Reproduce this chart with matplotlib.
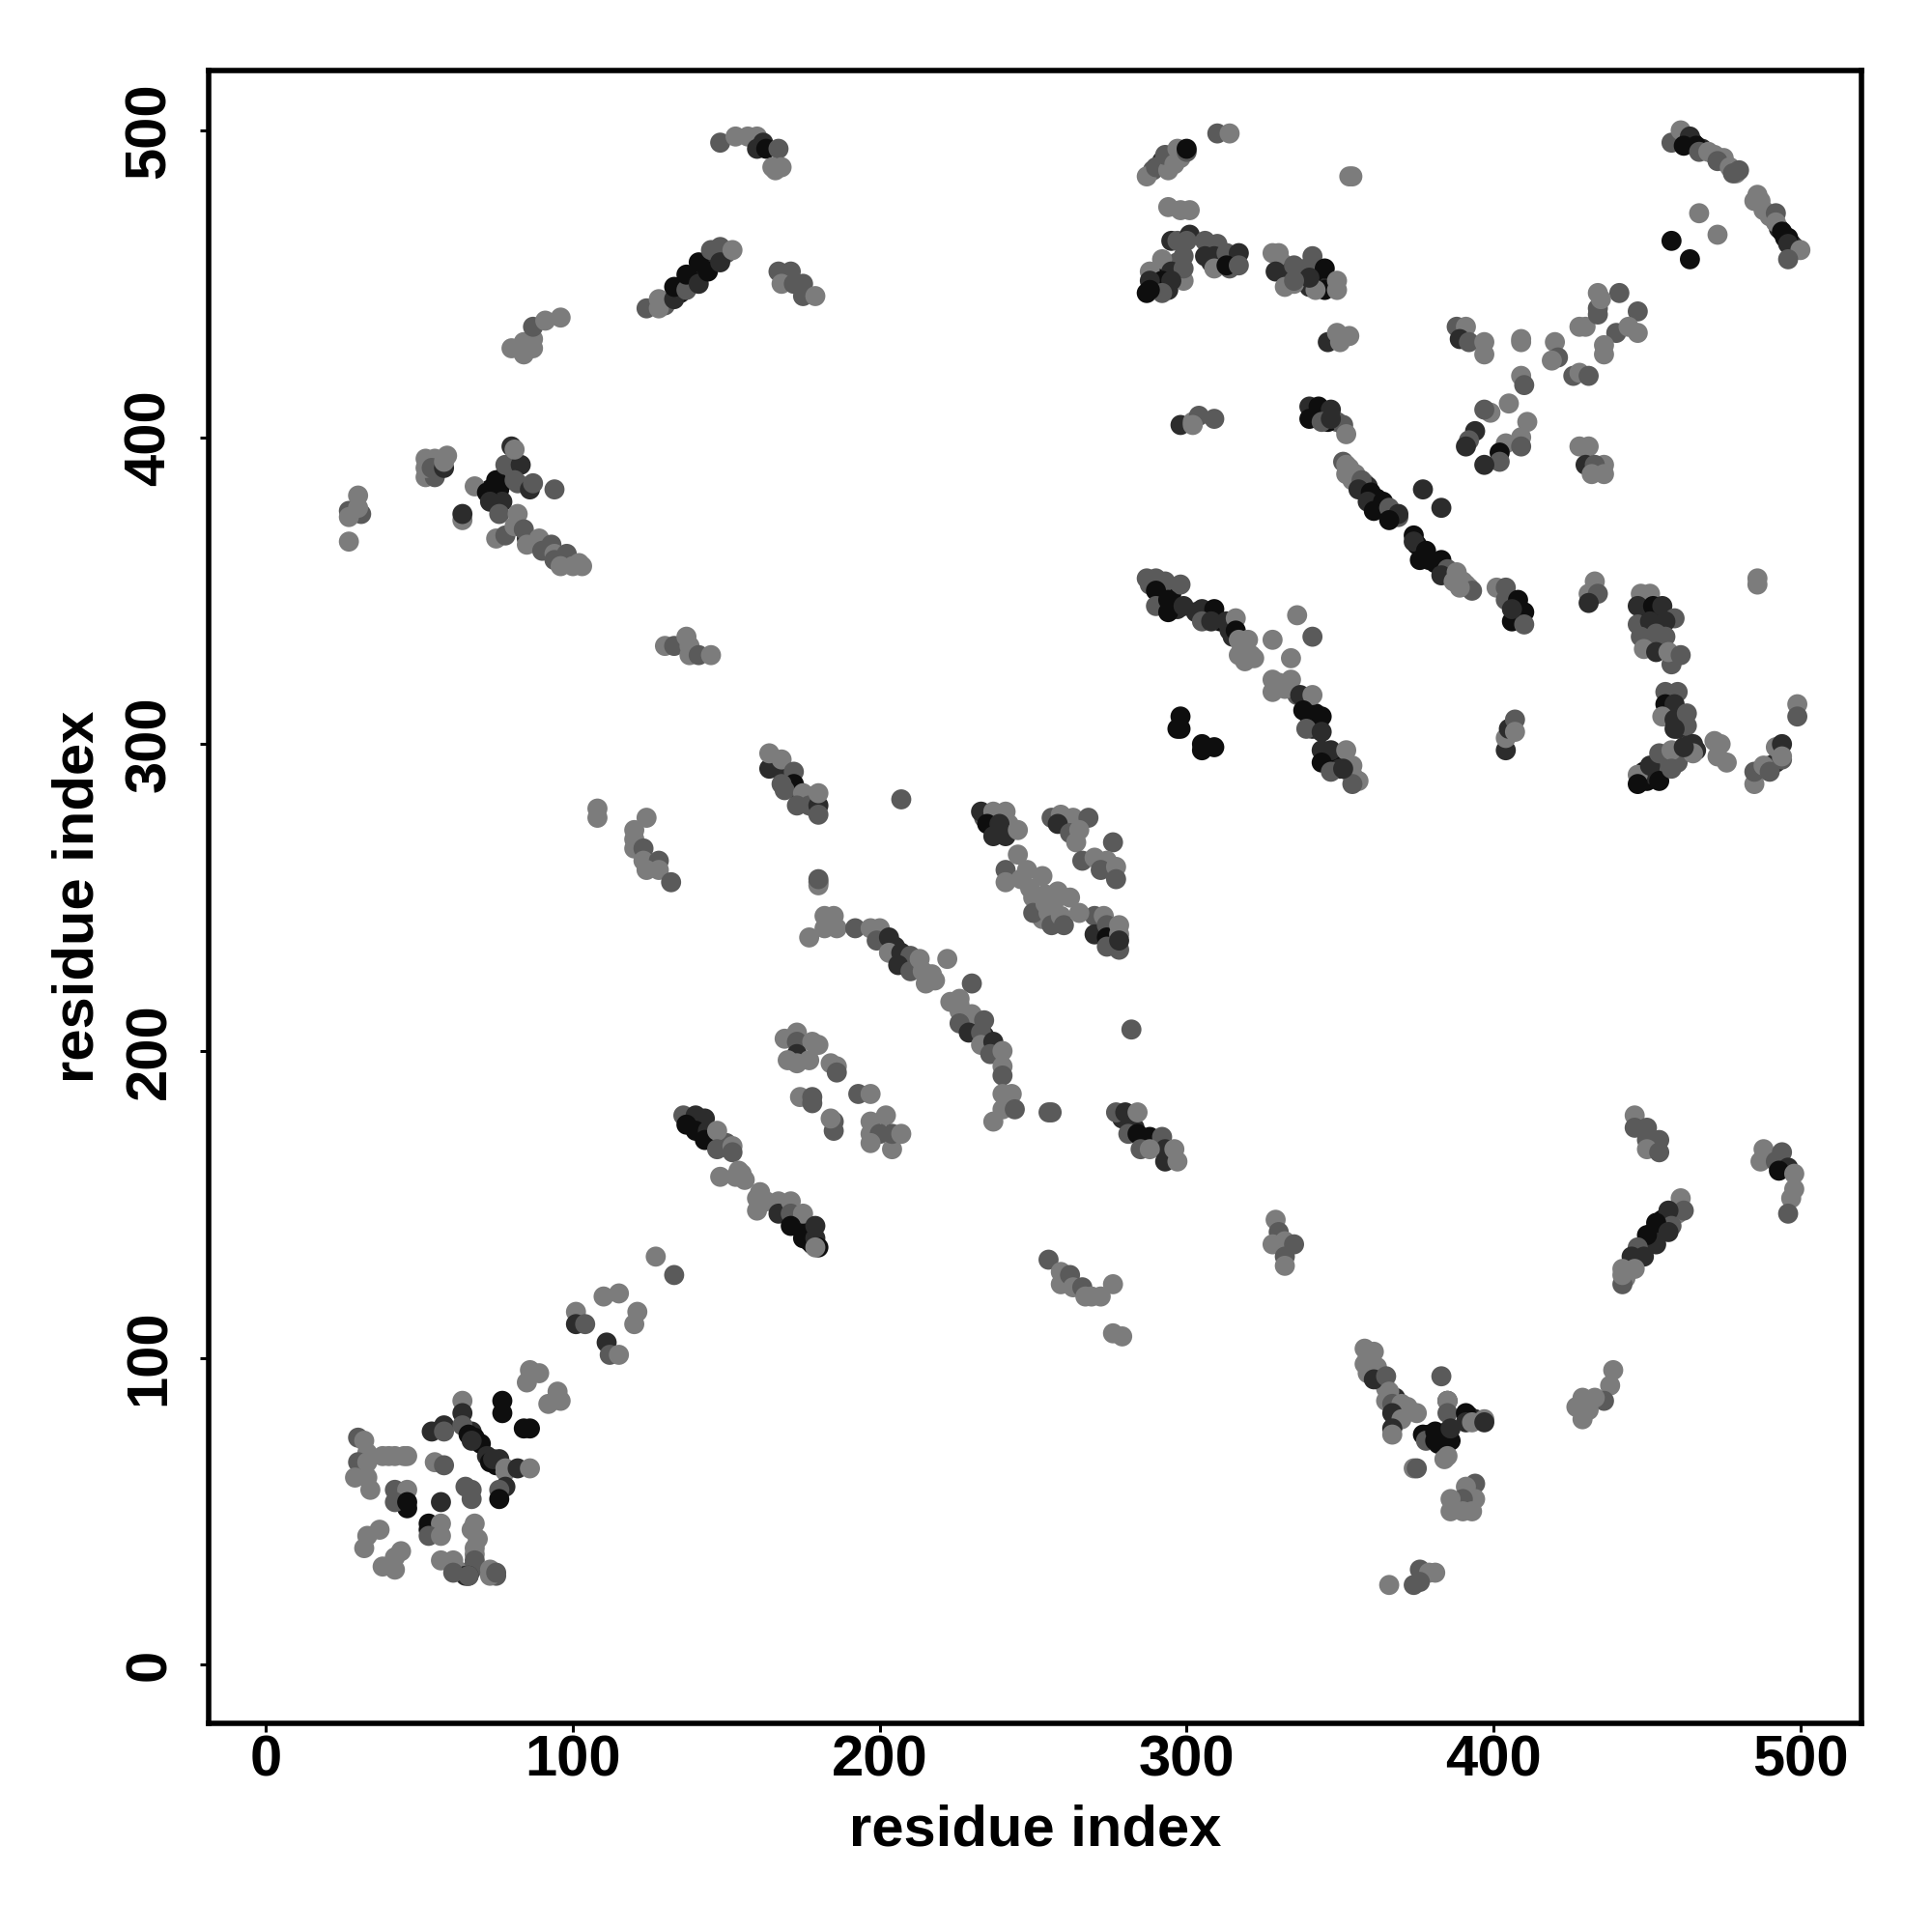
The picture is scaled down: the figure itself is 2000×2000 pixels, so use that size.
#!/usr/bin/env python3
"""Residue contact map, points read off the picture, one block per quadrant."""
import matplotlib
matplotlib.use('Agg')
import matplotlib.pyplot as plt

plt.rcParams['font.family'] = ['Liberation Sans', 'DejaVu Sans']

SHADE = {'L': '#7c7c7c', 'M': '#5a5a5a', 'D': '#2c2c2c', 'K': '#0e0e0e'}
TICKS = [0, 100, 200, 300, 400, 500]

# upper left
x_tl = [148, 153, 157, 160, 160, 162, 163, 167, 165, 168, 166,
        124, 128, 128, 133, 133, 137, 137, 141, 141, 144, 145, 148, 148, 152,
        167, 171, 168, 172, 175, 175, 179,
        80, 84, 87, 84, 87, 87, 91, 96,
        52, 55, 52, 52, 55, 54, 58, 58, 59,
        68, 72, 75, 73, 76, 78, 79, 80, 83, 81, 81, 86, 87, 94,
        31, 27, 27, 30, 30, 27,
        64, 64,
        75, 78, 85, 82, 81, 84, 85, 89, 90, 93, 94, 94, 98, 96, 100, 102, 103,
        130, 133, 137, 138, 138, 141, 145,
        164, 164, 168, 168, 172, 172, 168, 169, 175, 177, 173, 180, 180, 180,
        207,
        108, 108,
        124, 120, 120, 120, 123, 123, 128, 124, 128, 132,
        180, 180, 180,
        233, 237, 241, 235, 239, 241, 237, 245, 241, 245, 248, 241, 246, 249]
y_tl = [496, 498, 498, 498, 494, 496, 494, 494, 488, 488, 487,
        442, 442, 445, 445, 449, 448, 453, 450, 457, 454, 461, 462, 457, 461,
        454, 454, 450, 450, 450, 446, 446,
        429, 427, 429, 431, 432, 436, 438, 439,
        387, 387, 390, 393, 393, 390, 390, 392, 394,
        384, 382, 386, 379, 375, 391, 391, 397, 391, 396, 386, 383, 385, 383,
        375, 376, 374, 381, 377, 366,
        373, 375,
        367, 368, 367, 375, 371, 370, 365, 367, 363, 365, 362, 360, 362, 358, 358, 359, 358,
        332, 332, 335, 332, 329, 329, 329,
        292, 297, 291, 295, 291, 287, 287, 285, 284, 280, 280, 280, 277, 284,
        282,
        279, 276,
        276, 272, 269, 266, 266, 262, 262, 259, 259, 255,
        255, 254, 256,
        278, 278, 278, 274, 274, 270, 270, 272, 259, 264, 259, 255, 256, 253]
tone_tl = ('MLLLDDKMLLL' 'MLLDKMKDKKMMDL' 'MMLMMML' 'LLLLLMLL' 'LMLLLMDLL'
           'LKKDMMMDDLMDMM' 'MMLLLL' 'LD' 'LMDLLMLLMMLMMLLLL' 'LMLLLML'
           'DLDLMKMMLMMDML' 'M' 'LL' 'LLLLMLMLLM' 'MLM' 'DLLKDDDLMLLLLL')

# upper right
x_tr = [287, 290, 294, 293, 296, 297, 300, 300,
        310, 314, 353, 354,
        294, 298, 301,
        295, 297, 301, 300,
        292, 288, 299, 295, 299, 292, 288, 295, 287, 292, 288,
        306, 310, 306, 309, 313, 317, 309, 313, 317,
        328, 330, 329, 332, 335, 335, 339, 341, 345, 345, 342, 349, 349, 340, 335,
        346, 349, 353, 350,
        298, 302, 304, 309, 302,
        340, 343, 347, 340, 344, 351, 352, 347,
        351, 352, 352, 354, 357, 356, 360, 359, 364, 361, 366, 369, 366,
        377, 383,
        374, 374, 378, 376, 383, 385, 383, 388, 387, 390, 393, 389,
        401, 404, 404, 408, 410, 406, 410, 406,
        433, 431, 434, 431,
        486, 486,
        448, 451, 447, 452, 455, 459, 447, 451, 456, 448, 453, 456, 449, 453, 457, 461,
        456, 460, 456, 459, 455, 459, 463, 463, 459,
        499, 499,
        447, 447, 451, 454, 454, 458, 458, 465, 465, 462,
        472, 474, 473, 476,
        485, 485, 488, 490, 492, 494, 494,
        298, 298, 297, 305, 305, 309,
        287, 290, 293, 298, 290, 290, 294, 294, 299,
        305, 309, 305, 308, 313, 316, 316, 317, 320, 317, 321,
        336, 341, 328, 334,
        328, 334, 328, 332, 337, 341, 338, 344, 340, 339, 344,
        344, 347, 352, 344, 347, 354, 354, 354, 351,
        404, 404, 405, 407, 407,
        388, 391, 389, 392, 397, 397, 409, 409, 420, 421, 419, 428, 430, 434, 441, 434, 434, 435,
        447, 440, 444, 447, 436, 436, 426, 428, 431, 409, 410, 405, 399, 397, 394, 392, 391,
        411, 409, 404, 409, 402, 402, 397, 428, 431, 430, 436, 433, 432, 436,
        458, 461, 464, 462, 466, 467, 470, 475, 473, 477, 480, 478,
        486, 485, 488, 492, 492, 494, 496, 496, 500, 496,
        467, 473, 458, 464,
        256, 259, 263, 268, 258, 262, 265, 264, 276, 266, 270, 274, 272, 277, 277, 258, 253, 262,
        250, 254, 252, 253, 250, 254, 258]
y_tr = [485, 488, 487, 492, 489, 494, 493, 494,
        499, 499, 485, 485,
        475, 474, 474,
        464, 464, 466, 464,
        458, 454, 459, 454, 455, 451, 451, 451, 447, 447, 448,
        464, 463, 459, 459, 460, 460, 455, 456, 456,
        460, 460, 454, 449, 456, 450, 455, 459, 455, 448, 448, 451, 448, 452, 451,
        431, 434, 433, 431,
        404, 405, 407, 406, 404,
        410, 410, 409, 406, 405, 404, 401, 406,
        392, 391, 388, 386, 386, 383, 382, 379, 379, 376, 377, 375, 373,
        383, 377,
        368, 366, 363, 360, 360, 357, 355, 356, 353, 353, 350, 351,
        351, 351, 347, 347, 343, 340, 339, 344,
        353, 349, 349, 346,
        354, 352,
        349, 349, 345, 345, 345, 341, 339, 340, 340, 335, 336, 335, 331, 330, 330, 329,
        317, 317, 313, 313, 309, 308, 310, 306, 305,
        313, 309,
        290, 287, 293, 288, 297, 298, 292, 300, 297, 299,
        301, 300, 296, 294,
        287, 291, 293, 291, 299, 300, 296,
        309, 305, 305, 298, 300, 299,
        354, 354, 353, 352, 350, 345, 347, 343, 345,
        344, 344, 340, 340, 340, 341, 337, 334, 334, 329, 329,
        342, 335, 334, 328,
        321, 321, 317, 318, 316, 316, 311, 309, 309, 305, 304,
        298, 298, 298, 294, 291, 293, 290, 287, 292,
        298, 302, 305, 308, 304,
        436, 436, 432, 431, 431, 427, 432, 431, 431, 426, 425, 436, 436, 447, 447, 442, 440, 445,
        441, 434, 436, 434, 430, 427, 420, 421, 420, 420, 417, 411, 408, 409, 402, 399, 397,
        405, 400, 398, 397, 395, 392, 391, 397, 397, 391, 391, 391, 388, 388,
        496, 500, 498, 495, 495, 493, 493, 491, 490, 488, 487, 486,
        479, 477, 474, 473, 470, 467, 465, 463, 461, 458,
        473, 466, 464, 458,
        276, 277, 276, 276, 274, 271, 272, 268, 268, 262, 263, 262, 259, 260, 256, 252, 257, 250,
        250, 251, 247, 243, 245, 248, 250]
tone_tr = ('LMLMLLMK' 'MLLL' 'LLL' 'DMDM' 'LLMDMKDDKMK' 'MMDDMDLKM'
           'LLDLMLMMKKLLLDM' 'DLLL' 'DLMML' 'DKDKMMLD' 'MLLLMDKDKKMDK' 'DD'
           'KDKKKMDLLLML' 'LMMKKKMD' 'LLMD' 'LL' 'LLDKDMMDDMMMLDLM' 'MMKDLDMMD' 'LM'
           'LKDKMLMDLD' 'LLLL' 'LMLMLDL' 'KKKKKK' 'MMMMKMKKD' 'DKMDDLKLLLL' 'LMLL'
           'LLLLDLKKKMD' 'DDLKMLLMD' 'DLDML'
           'MLDMLLLLLMLLLLMMML' 'MMLLLLMLMLMLLMDMD' 'LLLMKMDLLDLMLL'
           'MLDKKMLLMLMM' 'LLLMLKKDLM' 'LLKK' 'MLLMDMLLMMLLMLMLLL' 'LLLLMLL')

# lower left
x_bl = [177, 182, 185, 182, 186, 192, 197, 200, 199, 203, 203, 207, 210, 206, 210, 213, 214, 217, 215, 222, 230,
        223, 226, 226, 230, 226, 229, 234, 233, 233, 237, 236, 240, 240, 240,
        243, 240, 240, 244, 237,
        173, 169, 173, 178, 180, 173, 170, 177, 173, 186, 184, 186,
        174, 178, 178, 193, 197, 185, 185, 184,
        197, 202, 197, 200, 197, 204, 204, 207,
        136, 140, 143, 137, 140, 144, 143, 147, 147, 152, 152, 148, 154, 153,
        161, 160, 167, 167, 171, 171, 175, 171, 175, 179, 179, 180, 179,
        127, 133, 110, 115, 101, 101, 104, 121, 120, 111, 112, 115,
        86, 89, 85, 95, 92, 96,
        64, 77, 77, 84, 86,
        54, 58, 58, 64, 64, 66, 67,
        30, 32, 30, 29, 33, 33, 34, 38, 42, 46,
        55, 58, 73, 74, 76, 78, 82, 86, 78, 76, 76,
        42, 46, 42, 46,
        65, 67, 67,
        53, 57, 53, 57,
        33, 37, 32, 44, 42, 38, 42,
        68, 69, 68, 68, 66, 57, 61, 61, 66, 73, 73, 75]
y_bl = [237, 244, 244, 240, 240, 240, 240, 240, 236, 237, 232, 232, 231, 228, 226, 230, 226, 225, 222, 230, 222,
        216, 217, 213, 212, 209, 206, 210, 206, 202, 203, 199, 200, 195, 192,
        186, 186, 181, 181, 177,
        206, 204, 203, 203, 202, 199, 197, 197, 196, 195, 196, 193,
        185, 185, 183, 186, 186, 177, 174, 178,
        177, 179, 173, 173, 170, 168, 173, 173,
        179, 179, 178, 176, 174, 174, 171, 174, 168, 169, 167, 159, 161, 159,
        154, 148, 151, 147, 151, 147, 147, 143, 139, 143, 139, 136, 136,
        133, 127, 120, 121, 115, 111, 111, 115, 111, 105, 101, 101,
        96, 95, 92, 89, 85, 86,
        86, 86, 82, 77, 77,
        76, 78, 76, 82, 78, 75, 73,
        74, 73, 66, 61, 66, 61, 57, 68, 68, 68,
        66, 65, 66, 67, 67, 64, 64, 64, 58, 57, 54,
        57, 57, 53, 53,
        58, 57, 54,
        46, 46, 42, 42,
        42, 44, 38, 37, 35, 32, 31,
        46, 41, 38, 34, 29, 34, 34, 30, 29, 31, 29, 30]
tone_bl = ('LLLLLMLLMDLDMDMLLLLLM' 'LLLLMDMMLDMLLM' 'LLLML' 'LLMLLDLLLLLM'
           'LMMMLMML' 'LLLMLLML' 'MDDKKDKLMLMLLL' 'LLLDLMLKKDDKL'
           'LMLLLDMLLDML' 'LLLLLL' 'LKKKK' 'DDMDMKD' 'MLMLLLLLLL'
           'LMKDDLDLDMK' 'MLMK' 'MMM' 'KLML' 'LLLLLLL' 'LLLMDLLMMLLM')

# lower right
x_br = [270, 273, 270, 274, 274, 278, 278, 274, 278, 278,
        255, 256, 259, 260, 265,
        282,
        255, 256,
        277, 280, 284, 281, 284, 288, 285, 292, 293, 288, 293, 296, 297,
        329, 330, 328, 332, 335, 332, 332,
        255, 259, 259, 262, 263, 266, 267, 269, 272, 276,
        276, 279,
        358, 361, 358, 359, 362, 361, 365, 366, 365, 367, 370, 367, 370, 375, 367, 367, 374, 375,
        383, 385, 385, 385, 391, 391, 393, 397, 397,
        377, 378, 381, 381, 384, 386, 385, 384,
        394, 391, 394, 390, 386, 386, 390, 393,
        366, 376, 379, 381, 376, 374,
        439, 438, 436, 433, 429, 427, 429, 431,
        446, 446, 450, 450, 454, 450, 454,
        461, 462, 457, 458, 453, 457, 453, 450, 447, 449, 445, 446, 442, 442, 442,
        488, 487, 494, 492, 496, 493, 498, 498, 497, 496]
y_br = [244, 244, 238, 241, 237, 241, 238, 234, 233, 236,
        245, 241, 244, 241, 245,
        207,
        180, 180,
        180, 180, 180, 173, 173, 172, 168, 172, 168, 168, 164, 168, 164,
        145, 141, 137, 138, 137, 133, 130,
        132, 128, 124, 127, 123, 123, 120, 120, 120, 124,
        108, 107,
        103, 102, 98, 95, 97, 93, 94, 89, 86, 85, 85, 82, 80, 82, 77, 75, 64, 64,
        94, 86, 86, 82, 82, 79, 79, 80, 79,
        75, 73, 73, 76, 74, 77, 68, 67,
        59, 58, 54, 54, 54, 50, 50, 50,
        26, 31, 30, 30, 27, 26,
        96, 91, 86, 87, 87, 84, 80, 83,
        179, 175, 175, 171, 171, 168, 167,
        152, 148, 148, 143, 144, 141, 137, 140, 136, 133, 133, 129, 129, 124, 127,
        168, 164, 167, 164, 162, 161, 160, 155, 152, 147]
tone_br = ('MLDMKLLMMD' 'LMLML' 'M' 'MM' 'MDLMKKMMDLDLL' 'LMLLMML' 'MLLMLMLLLL'
           'LL' 'LLLLLDMLLMLDLLDLLM' 'MDLMKDLLD' 'KMKKKDLL' 'MLLMLLLL' 'LMLLMM'
           'LLMLLLLL' 'LMMMMLM' 'LMDMKDDKMDDLLML' 'LLMMDKLLLM')

# second pass, contacts hidden inside the denser strands
x_fill = [130, 135, 139, 143, 146, 150,
          353, 355, 358, 359, 362, 365, 367, 369, 375, 377, 379, 381, 384, 386, 388, 391, 392,
          288, 292, 295, 297, 303, 306, 311, 314, 315, 319, 318, 322, 320, 319,
          330, 336, 339, 342, 343, 341, 346, 349, 350, 353, 356,
          138, 142, 145, 150, 155, 156, 160, 163, 169, 173, 176, 177, 178,
          205, 209, 212, 218, 226, 228, 231, 234, 236, 238,
          45, 40, 33, 31, 32, 67, 68, 70, 72, 75, 78, 56, 53, 57, 43, 46, 67, 68, 67, 62, 65, 75,
          463, 465, 468, 472, 475, 479, 487, 490, 493, 495, 497, 498,
          443, 448, 451, 452, 455, 458, 460,
          450, 454, 452, 455, 458,
          457, 458, 460, 461,
          449, 450, 452, 457, 460, 464, 466,
          342, 345, 349, 346,
          331, 334, 337, 340, 343, 345, 346,
          290, 294, 293, 297, 299, 311, 308, 314,
          73, 74, 76, 77, 78, 80, 82, 78,
          54, 56, 53,
          359, 360, 362, 365, 368, 372, 368,
          379, 382, 385, 386, 383,
          392, 394,
          289, 292, 295, 298,
          490, 492, 494,
          166, 170, 173, 178, 179,
          236, 240, 234, 238, 242,
          91, 96, 99,
          279, 283, 286, 290, 294]
y_fill = [443, 447, 451, 456, 458, 460,
          390, 388, 385, 384, 380, 377, 375, 374, 365, 363, 360, 359, 357, 355, 354, 352, 351,
          352, 349, 349, 344, 343, 342, 340, 337, 335, 331, 331, 328, 329, 327,
          320, 316, 313, 310, 307, 305, 296, 294, 292, 291, 288,
          177, 176, 172, 170, 160, 158, 152, 151, 148, 144, 141, 138, 137,
          234, 230, 228, 223, 215, 211, 208, 205, 202, 200,
          68, 68, 69, 65, 63, 76, 74, 72, 68, 65, 63, 44, 44, 53, 54, 51, 44, 36, 31, 31, 29, 29,
          497, 496, 494, 492, 490, 486, 477, 472, 468, 465, 463, 462,
          126, 134, 137, 141, 145, 146, 147,
          342, 342, 335, 331, 326,
          315, 310, 305, 310,
          291, 288, 290, 293, 294, 300, 298,
          409, 407, 405, 405,
          457, 454, 453, 449, 452, 451, 449,
          450, 448, 455, 457, 451, 458, 457, 455,
          383, 381, 383, 379, 386, 389, 385, 388,
          388, 391, 391,
          100, 96, 93, 90, 87, 84, 79,
          75, 72, 76, 73, 72,
          81, 80,
          487, 490, 490, 491,
          293, 294, 295,
          293, 290, 285, 283, 279,
          275, 275, 276, 271, 274,
          364, 360, 359,
          178, 175, 170, 169, 165]
tone_fill = ('MKKDDM' 'LLLDKKKMKKKKDMLLL' 'MKKDDKKDDLLLLL' 'LMKKKDDKDLL'
             'KKDMLLLLMKKKK' 'DMMLLLMDDM' 'LLLMLDKKDKLKKDDKLLMLDM'
             'KKDLLLLLDKKD' 'LDKDKML' 'KDMMM' 'MDDD' 'KKDMMDD' 'KDMK' 'LDMDDKD'
             'KDKMLKDM' 'KKKDKDMM' 'MLD' 'LLMLDLL' 'KKKKK' 'KD' 'MDML' 'MDM'
             'DDDLD' 'DDMDL' 'LLL' 'DDKMM')

fig = plt.figure(figsize=(10, 10), dpi=200, facecolor='white')
ax = fig.add_axes([216.3 / 2000, 1 - 1783.7 / 2000, 1711 / 2000, 1711 / 2000])

for xs, ys, tones in [(x_fill, y_fill, tone_fill), (x_tl, y_tl, tone_tl), (x_tr, y_tr, tone_tr),
                      (x_bl, y_bl, tone_bl), (x_br, y_br, tone_br)]:
    ax.scatter(xs, ys, c=[SHADE[t] for t in tones], s=56, linewidths=0, zorder=3)

ax.set_xlim(-18.6, 520)
ax.set_ylim(-19, 519.6)
ax.set_xticks(TICKS)
ax.set_yticks(TICKS)
ax.tick_params(axis='x', length=3.2, width=1.1, pad=1.1)
ax.tick_params(axis='y', length=3.2, width=1.1, pad=8.8)
for lab in ax.get_xticklabels():
    lab.set_fontsize(21.5)
    lab.set_fontweight('bold')
for lab in ax.get_yticklabels():
    lab.set_fontsize(21.5)
    lab.set_fontweight('bold')
    lab.set_rotation(90)
    lab.set_va('center')
for side in ax.spines.values():
    side.set_linewidth(2)
ax.set_xlabel('residue index', fontsize=21.5, fontweight='bold', labelpad=6)
ax.set_ylabel('residue index', fontsize=21.5, fontweight='bold', labelpad=7.1)

fig.savefig('out.png', dpi=200, facecolor='white')
plt.close(fig)
